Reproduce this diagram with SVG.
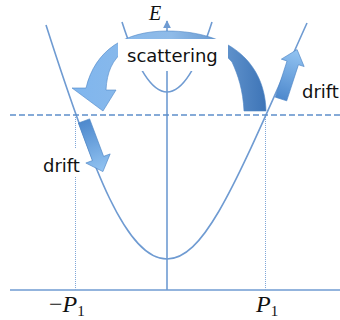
<svg xmlns="http://www.w3.org/2000/svg" width="340" height="320" viewBox="0 0 340 320">
<style>
.ln{fill:none;stroke:#6f9bd2;stroke-width:1.6}
.dash{fill:none;stroke:#5e8fca;stroke-width:1.6;stroke-dasharray:6 3}
.dot{fill:none;stroke:#7fa6d8;stroke-width:1;stroke-dasharray:1 1}
.lbl{font-family:"DejaVu Sans",sans-serif;font-size:18px;fill:#111}
.math{font-family:"Liberation Serif",serif;font-style:italic;fill:#111}
.arr{stroke:#4f86c6;stroke-width:0.6}
</style>
<defs>
<linearGradient id="gBig" gradientUnits="userSpaceOnUse" x1="75" y1="0" x2="268" y2="0">
<stop offset="0" stop-color="#80b6ee"/>
<stop offset="0.5" stop-color="#8fbbe8"/>
<stop offset="1" stop-color="#3c73b6"/>
</linearGradient>
<linearGradient id="gDrift" x1="0" y1="0" x2="1" y2="0">
<stop offset="0" stop-color="#4e89cd"/>
<stop offset="1" stop-color="#93c4f2"/>
</linearGradient>
<marker id="ah" viewBox="0 0 10 10" refX="9" refY="5" markerWidth="5" markerHeight="5" orient="auto">
<path d="M0,0 L10,5 L0,10 z" fill="#6f9bd2"/>
</marker>
</defs>

<g id="axes">
<line class="ln" x1="10" y1="290" x2="340" y2="290" stroke-width="2"/>
<line class="ln" x1="167" y1="290" x2="167" y2="21" marker-end="url(#ah)"/>
</g>

<g id="curves">
<path id="bigParabola" class="ln" d="M46,25 C94,175 127,259 167,259 C207,259 239.5,173 307,23"/>
<path id="smallParabola" class="ln" d="M122,22 Q167,162 212,22"/>
</g>

<g id="guides">
<line class="dash" x1="10" y1="115" x2="340" y2="115"/>
<line class="dot" x1="75.5" y1="117" x2="75.5" y2="290"/>
<line class="dot" x1="265.5" y1="117" x2="265.5" y2="290"/>
</g>

<g id="scatteringArrow">
<path class="arr" fill="url(#gBig)" d="M266,111 C265,65 232,31 167,31 C125,31 95,50 86,88 L72,88 L103,111 L116,90 L106,90 C107,72 112,60 125,50 C140,45 155,44 167,44 C205,44 224,52 232,62 C238,75 243,90 244,111 Z"/>
</g>

<g id="scatteringLabel">
<rect x="118" y="39" width="110" height="32" fill="#fff"/>
<text class="lbl" x="127" y="62">scattering</text>
</g>

<g id="driftRight">
<polygon class="arr" fill="url(#gDrift)" transform="translate(281,99) rotate(-72)" points="0,-6 38,-6 38,-12 52,0 38,12 38,6 0,6"/>
<text class="lbl" x="302" y="98">drift</text>
</g>

<g id="driftLeft">
<polygon class="arr" fill="url(#gDrift)" transform="translate(84,121) rotate(69.5)" points="0,-6 40,-6 40,-13 54,0 40,13 40,6 0,6"/>
<rect x="41" y="148" width="38" height="29" fill="#fff"/>
<text class="lbl" x="43" y="172">drift</text>
</g>

<g id="labels">
<text class="math" x="149" y="20" font-size="20">E</text>
<text class="math" x="49" y="312" font-size="24"><tspan font-style="normal">−</tspan>P<tspan font-style="normal" font-size="15" dy="4">1</tspan></text>
<text class="math" x="256" y="312" font-size="24">P<tspan font-style="normal" font-size="15" dy="4">1</tspan></text>
</g>
</svg>
